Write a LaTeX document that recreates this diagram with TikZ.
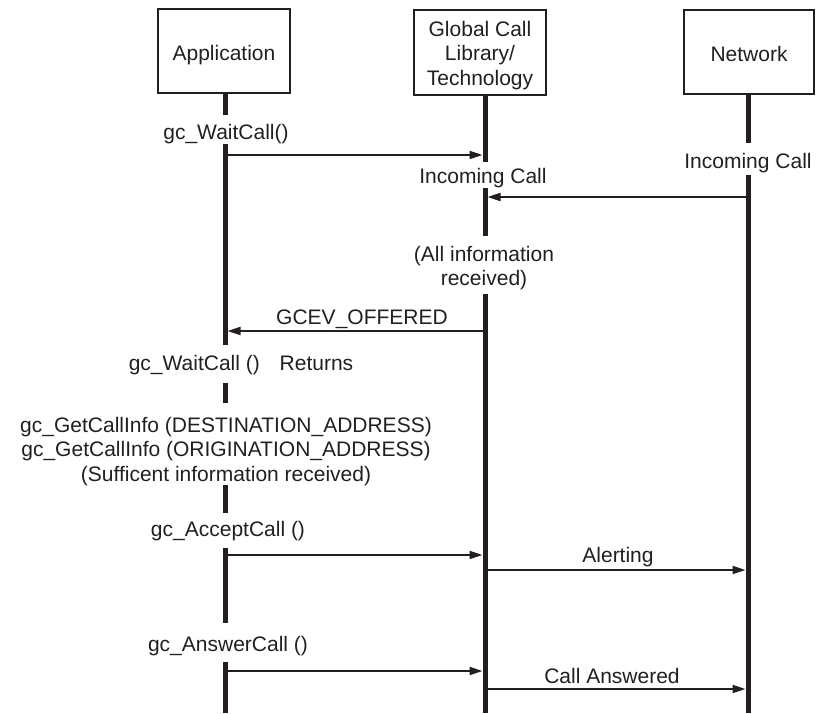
\documentclass[tikz,border=0pt]{standalone}
\usepackage{fontspec}
\setmainfont{Liberation Sans}
\usetikzlibrary{arrows.meta}
\definecolor{ink}{HTML}{231F20}
\begin{document}
\begin{tikzpicture}[x=1pt,y=-1pt,
  every node/.style={font=\fontsize{21}{24.5}\selectfont, text=ink},
  actor/.style={draw=ink, line width=2.5pt, minimum width=132pt, minimum height=84pt, inner sep=0pt, fill=white, align=center},
  life/.style={draw=ink, line width=5pt},
  msg/.style={draw=ink, line width=2pt, -{Triangle[length=13pt,width=8pt]}, shorten >=2.5pt},
  lbl/.style={anchor=base, inner sep=0pt, align=center}]
\useasboundingbox (0,0) rectangle (816,713);

% actor boxes
\node[actor, text height=18pt, text depth=0pt] (app) at (224,51) {Application};
\node[actor, minimum height=85pt] (gcl) at (480,52.5) {\rule{0pt}{21pt}Global Call\\Library/\\Technology};
\node[actor, minimum width=130pt, text height=18pt, text depth=0pt] (net) at (749,52) {Network};

% lifeline coordinates
\coordinate (A1) at (225,93);  \coordinate (A2) at (225,115);
\coordinate (A3) at (225,144); \coordinate (A4) at (225,345);
\coordinate (A5) at (225,383); \coordinate (A6) at (225,403);
\coordinate (A7) at (225,485); \coordinate (A8) at (225,513);
\coordinate (A9) at (225,548); \coordinate (A10) at (225,623);
\coordinate (A11) at (225,662); \coordinate (A12) at (225,713);
\coordinate (G1) at (485,95);  \coordinate (G2) at (485,162);
\coordinate (G3) at (485,188); \coordinate (G4) at (485,236);
\coordinate (G5) at (485,294); \coordinate (G6) at (485,713);
\coordinate (N1) at (748,94);  \coordinate (N2) at (748,143);
\coordinate (N3) at (748,175); \coordinate (N4) at (748,713);

% lifelines
\draw[life] (A1) -- (A2);  \draw[life] (A3) -- (A4);
\draw[life] (A5) -- (A6);  \draw[life] (A7) -- (A8);
\draw[life] (A9) -- (A10); \draw[life] (A11) -- (A12);
\draw[life] (G1) -- (G2);  \draw[life] (G3) -- (G4);
\draw[life] (G5) -- (G6);
\draw[life] (N1) -- (N2);  \draw[life] (N3) -- (N4);

% message end points
\coordinate (m1a) at (225,155); \coordinate (m1g) at (485,155);
\coordinate (m2n) at (748,197); \coordinate (m2g) at (485,197);
\coordinate (m3g) at (485,331); \coordinate (m3a) at (225,331);
\coordinate (m4a) at (225,555); \coordinate (m4g) at (485,555);
\coordinate (m5g) at (485,570); \coordinate (m5n) at (748,570);
\coordinate (m6a) at (225,671); \coordinate (m6g) at (485,671);
\coordinate (m7g) at (485,689); \coordinate (m7n) at (748,689);

% messages
\draw[msg] (m1a) -- (m1g);
\draw[msg] (m2n) -- (m2g);
\draw[msg] (m3g) -- (m3a);
\draw[msg] (m4a) -- (m4g);
\draw[msg] (m5g) -- (m5n);
\draw[msg] (m6a) -- (m6g);
\draw[msg] (m7g) -- (m7n);

% labels (multi-line labels: base = last line's baseline)
\node[lbl] (t1) at (226,139) {gc\_WaitCall()};
\node[lbl] (t2) at (483,183) {Incoming Call};
\node[lbl] (t3) at (748,168) {Incoming Call};
\node[lbl] (t4) at (484,285.5) {(All information\\received)};
\node[lbl] (t5) at (362,324) {GCEV\_OFFERED};
\node[lbl] (t6) at (241,370) {gc\_WaitCall ()\hspace{14pt} Returns};
\node[lbl] (t7) at (226,481) {gc\_GetCallInfo (DESTINATION\_ADDRESS)\\gc\_GetCallInfo (ORIGINATION\_ADDRESS)\\(Sufficent information received)};
\node[lbl] (t8) at (228,536) {gc\_AcceptCall ()};
\node[lbl] (t9) at (618,562) {Alerting};
\node[lbl] (t10) at (228,651) {gc\_AnswerCall ()};
\node[lbl] (t11) at (612,683) {Call Answered};
\end{tikzpicture}
\end{document}
